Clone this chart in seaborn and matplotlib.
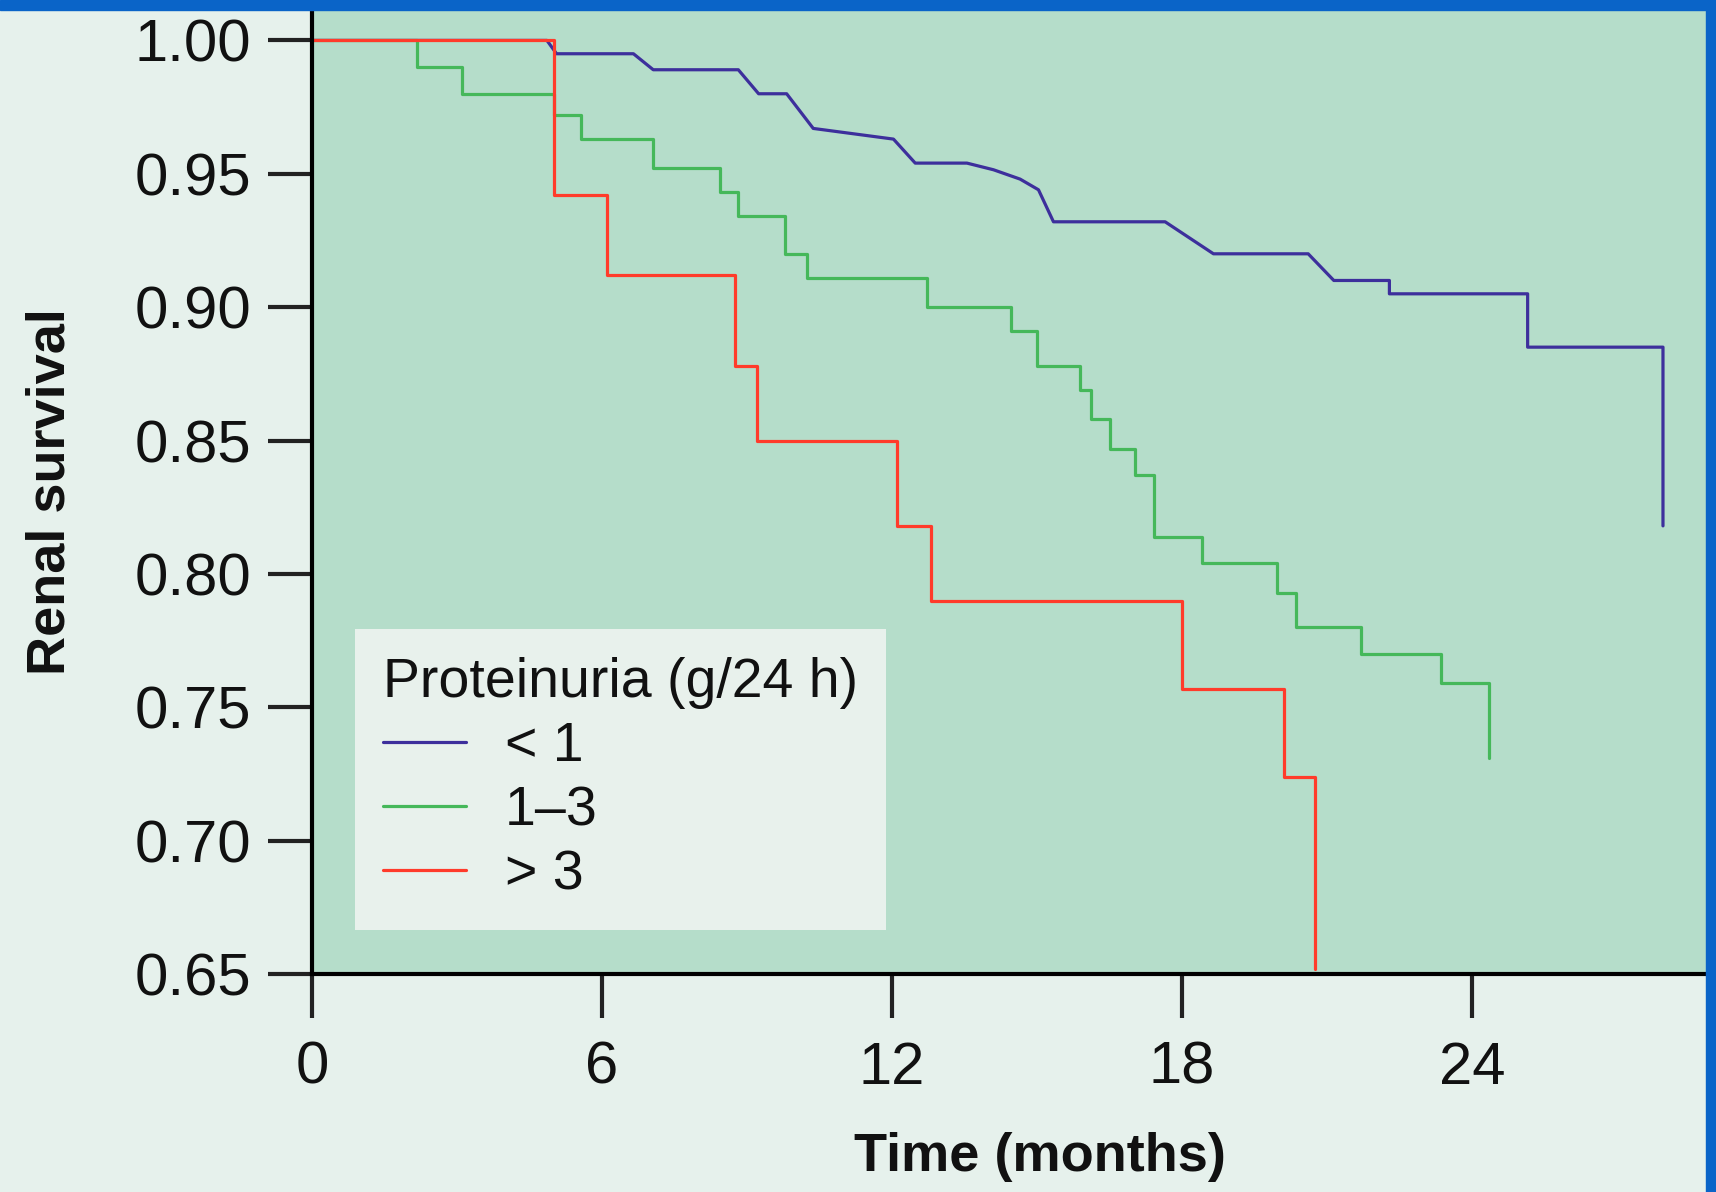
import matplotlib.pyplot as plt
import seaborn as sns
from matplotlib.lines import Line2D
from matplotlib.patches import Rectangle

# Данные (время в месяцах, доля с сохранной функцией почек)
# < 1 г/24 ч: ломаная линия с наклонными переходами
low_time = [0, 4.86, 5.06, 6.65, 7.06, 8.82, 9.24, 9.82, 10.37, 12.03, 12.48, 13.55,
            14.10, 14.65, 15.03, 15.34, 17.65, 18.65, 20.61, 21.14, 22.29, 22.29,
            25.15, 25.15, 27.95, 27.95]
low_surv = [1.0, 1.0, 0.995, 0.995, 0.989, 0.989, 0.980, 0.980, 0.967, 0.963, 0.954, 0.954,
            0.9515, 0.948, 0.944, 0.932, 0.932, 0.920, 0.920, 0.910, 0.910, 0.905,
            0.905, 0.885, 0.885, 0.818]

# 1-3 г/24 ч: ступенчатая кривая
mid_time = [0, 2.17, 3.10, 5.0, 5.57, 7.06, 8.44, 8.82, 9.79, 10.25, 12.73, 14.46,
            14.99, 15.89, 16.12, 16.50, 17.03, 17.42, 18.41, 19.97, 20.35, 21.70,
            23.35, 24.36]
mid_surv = [1.0, 0.990, 0.980, 0.972, 0.963, 0.952, 0.943, 0.934, 0.920, 0.911, 0.900, 0.891,
            0.878, 0.869, 0.858, 0.847, 0.837, 0.814, 0.804, 0.793, 0.780, 0.770,
            0.759, 0.731]

# > 3 г/24 ч
high_time = [0, 5.0, 6.1, 8.75, 9.2, 12.1, 12.8, 18.0, 20.1, 20.75]
high_surv = [1.0, 0.942, 0.912, 0.878, 0.850, 0.818, 0.790, 0.757, 0.724, 0.652]

group_labels = ['< 1', '1–3', '> 3']
group_colors = ['#3d2f9c', '#45b85a', '#ff3b2b']
x_ticks = [0, 6, 12, 18, 24]
y_ticks = [0.65, 0.70, 0.75, 0.80, 0.85, 0.90, 0.95, 1.00]

sns.set_theme(style='ticks')
plt.rcParams['font.family'] = ['Liberation Sans', 'DejaVu Sans']

W, H = 1716, 1192
fig = plt.figure(figsize=(W / 100, H / 100), dpi=100, facecolor='#e6f1ec')
ax = fig.add_axes([312 / W, (H - 974) / H, (1706 - 312) / W, (974 - 10) / H])
ax.set_facecolor('#b5ddca')

lw = 2.3
sns.lineplot(x=low_time, y=low_surv, ax=ax, color=group_colors[0], lw=lw,
             estimator=None, sort=False)
sns.lineplot(x=mid_time, y=mid_surv, ax=ax, color=group_colors[1], lw=lw,
             estimator=None, sort=False, drawstyle='steps-post')
sns.lineplot(x=high_time, y=high_surv, ax=ax, color=group_colors[2], lw=lw,
             estimator=None, sort=False, drawstyle='steps-post')

ax.set_xlim(0, 28.84)
ax.set_ylim(0.65, 1.0114)
ax.set_xticks(x_ticks)
ax.set_xticklabels([str(t) for t in x_ticks])
ax.set_yticks(y_ticks)
ax.set_yticklabels(['%.2f' % v for v in y_ticks])

for s in ['top', 'right']:
    ax.spines[s].set_visible(False)
for s in ['left', 'bottom']:
    ax.spines[s].set_color('black')
    ax.spines[s].set_linewidth(3.0)
ax.tick_params(axis='both', direction='out', length=32, width=3.0, color='#222222',
               labelsize=43, labelcolor='#111111')
ax.tick_params(axis='x', pad=16)
ax.tick_params(axis='y', pad=12)

ax.set_xlabel('Time (months)', fontsize=39, fontweight='bold', color='#111111')
ax.set_ylabel('Renal survival', fontsize=39, fontweight='bold', color='#111111')
ax.xaxis.set_label_coords(0.522, -0.164)
ax.yaxis.set_label_coords(-0.170, 0.5)

handles = [Line2D([], [], color=c, lw=lw) for c in group_colors]
leg = ax.legend(handles, group_labels, title='Proteinuria (g/24 h)',
                loc='lower left', bbox_to_anchor=(0.031, 0.046), borderaxespad=0,
                fontsize=40, title_fontsize=40, frameon=True, fancybox=False,
                facecolor='#e8f1ec', edgecolor='none', framealpha=1,
                handlelength=1.5, handletextpad=0.7, labelspacing=0.22,
                borderpad=0.5, alignment='left')
for t in leg.get_texts():
    t.set_color('#111111')
leg.get_title().set_color('#111111')

# синяя рамка сверху и справа
fig.add_artist(Rectangle((0, 1 - 10 / H), 1, 10 / H, transform=fig.transFigure,
                         color='#0a64c8', zorder=10))
fig.add_artist(Rectangle((1706 / W, 0), 10 / W, 1, transform=fig.transFigure,
                         color='#0a64c8', zorder=10))

plt.savefig('out.png', dpi=100, facecolor=fig.get_facecolor())
